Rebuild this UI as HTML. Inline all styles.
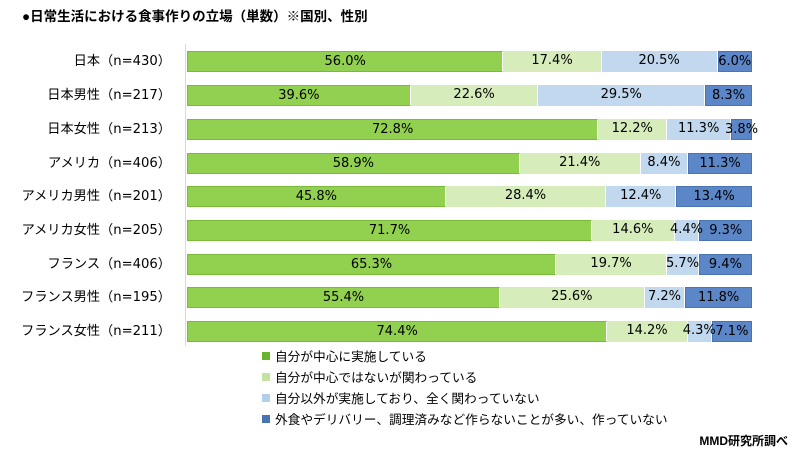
<!DOCTYPE html>
<html><head><meta charset="utf-8"><style>
body{margin:0;width:800px;height:460px;background:#fff;font-family:"DejaVu Sans","Noto Sans CJK JP",sans-serif;position:relative;overflow:hidden;color:#000}
.t{position:absolute;left:22px;top:5px;font-size:13.5px;font-weight:bold;font-family:"Liberation Sans","Noto Sans CJK JP",sans-serif}
.ax{position:absolute;left:185px;top:44px;width:1px;height:302px;background:#d9d9d9}
.row{position:absolute;left:187px;width:565px;height:21px;display:flex}
.lab{position:absolute;right:629px;font-size:13.2px;white-space:nowrap;line-height:21px}
.s{height:100%;box-sizing:border-box;border-right:1px solid #fff;font-size:13px;line-height:20px;text-align:center;white-space:nowrap;overflow:visible;display:flex;justify-content:center}
.s span{position:relative;z-index:2}
.a{background:#92d050;border:1px solid #7ab93a;border-right:1px solid #fff}
.b{background:#d6ecbb}
.c{background:#c1d8ee}
.d{background:#5b86c8;border:1px solid #4a73b3}
.lg{position:absolute;left:262px;font-size:12.7px;line-height:18px;font-family:"Liberation Sans","Noto Sans CJK JP",sans-serif}
.lg i{display:inline-block;width:8px;height:8px;margin-right:5px;vertical-align:1px}
.m{position:absolute;right:12px;top:432px;font-size:12px;font-weight:bold;font-family:"Liberation Sans","Noto Sans CJK JP",sans-serif}
</style></head><body>
<div class="t">●日常生活における食事作りの立場（単数）※国別、性別</div>
<div class="ax"></div>

<div class="lab" style="top:51px">日本（n=430）</div>
<div class="row" style="top:51px"><div class="s a" style="width:56%"><span>56.0%</span></div><div class="s b" style="width:17.4%"><span>17.4%</span></div><div class="s c" style="width:20.5%"><span>20.5%</span></div><div class="s d" style="width:6.1%"><span>6.0%</span></div></div>

<div class="lab" style="top:85px">日本男性（n=217）</div>
<div class="row" style="top:85px"><div class="s a" style="width:39.6%"><span>39.6%</span></div><div class="s b" style="width:22.6%"><span>22.6%</span></div><div class="s c" style="width:29.5%"><span>29.5%</span></div><div class="s d" style="width:8.3%"><span>8.3%</span></div></div>

<div class="lab" style="top:119px">日本女性（n=213）</div>
<div class="row" style="top:119px"><div class="s a" style="width:72.8%"><span>72.8%</span></div><div class="s b" style="width:12.2%"><span>12.2%</span></div><div class="s c" style="width:11.3%"><span>11.3%</span></div><div class="s d" style="width:3.7%"><span>3.8%</span></div></div>

<div class="lab" style="top:153px">アメリカ（n=406）</div>
<div class="row" style="top:153px"><div class="s a" style="width:58.9%"><span>58.9%</span></div><div class="s b" style="width:21.4%"><span>21.4%</span></div><div class="s c" style="width:8.4%"><span>8.4%</span></div><div class="s d" style="width:11.3%"><span>11.3%</span></div></div>

<div class="lab" style="top:186px">アメリカ男性（n=201）</div>
<div class="row" style="top:186px"><div class="s a" style="width:45.8%"><span>45.8%</span></div><div class="s b" style="width:28.4%"><span>28.4%</span></div><div class="s c" style="width:12.4%"><span>12.4%</span></div><div class="s d" style="width:13.4%"><span>13.4%</span></div></div>

<div class="lab" style="top:220px">アメリカ女性（n=205）</div>
<div class="row" style="top:220px"><div class="s a" style="width:71.7%"><span>71.7%</span></div><div class="s b" style="width:14.6%"><span>14.6%</span></div><div class="s c" style="width:4.4%"><span>4.4%</span></div><div class="s d" style="width:9.3%"><span>9.3%</span></div></div>

<div class="lab" style="top:254px">フランス（n=406）</div>
<div class="row" style="top:254px"><div class="s a" style="width:65.3%"><span>65.3%</span></div><div class="s b" style="width:19.7%"><span>19.7%</span></div><div class="s c" style="width:5.6%"><span>5.7%</span></div><div class="s d" style="width:9.4%"><span>9.4%</span></div></div>

<div class="lab" style="top:287px">フランス男性（n=195）</div>
<div class="row" style="top:287px"><div class="s a" style="width:55.4%"><span>55.4%</span></div><div class="s b" style="width:25.6%"><span>25.6%</span></div><div class="s c" style="width:7.2%"><span>7.2%</span></div><div class="s d" style="width:11.8%"><span>11.8%</span></div></div>

<div class="lab" style="top:321px">フランス女性（n=211）</div>
<div class="row" style="top:321px"><div class="s a" style="width:74.4%"><span>74.4%</span></div><div class="s b" style="width:14.2%"><span>14.2%</span></div><div class="s c" style="width:4.3%"><span>4.3%</span></div><div class="s d" style="width:7.1%"><span>7.1%</span></div></div>

<div class="lg" style="top:348px"><i style="background:#6ab42d"></i>自分が中心に実施している</div>
<div class="lg" style="top:369px"><i style="background:#c4e3a3"></i>自分が中心ではないが関わっている</div>
<div class="lg" style="top:390px"><i style="background:#b4cfec"></i>自分以外が実施しており、全く関わっていない</div>
<div class="lg" style="top:411px"><i style="background:#4a73b3"></i>外食やデリバリー、調理済みなど作らないことが多い、作っていない</div>
<div class="m">MMD研究所調べ</div>
</body></html>
